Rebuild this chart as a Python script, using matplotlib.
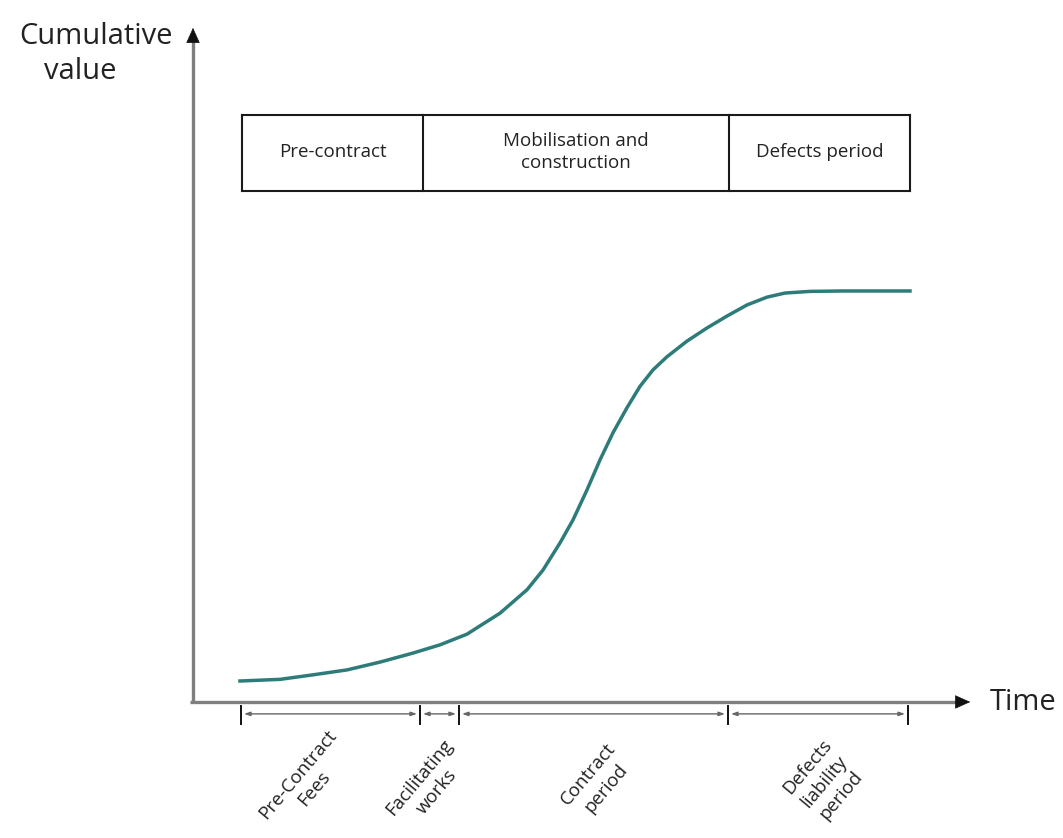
import matplotlib
matplotlib.use("Agg")
import matplotlib.pyplot as plt
import numpy as np

plt.rcParams['font.family'] = ['Open Sans', 'DejaVu Sans']

# s-curve of cumulative value over time
time = [9.4, 17.4, 24.0, 30.8, 37.4, 44.0, 49.4, 54.8, 61.4, 66.8, 70.0, 73.4,
        76.0, 78.8, 81.4, 84.0, 86.8, 89.4, 92.0, 94.8, 98.8, 102.8, 106.8,
        110.8, 114.8, 118.4, 123.4, 130.0, 143.4]
value = [5.1, 5.5, 6.6, 7.8, 9.7, 11.9, 13.9, 16.5, 21.6, 27.3, 32.1, 38.7,
         44.3, 51.6, 58.9, 65.5, 71.6, 76.8, 80.8, 84.0, 87.8, 91.0, 93.9,
         96.6, 98.5, 99.5, 99.9, 100.0, 100.0]

# stage boxes along the top
stage_edges = [9.8, 46.0, 107.2, 143.4]
stage_names = ["Pre-contract", "Mobilisation and\nconstruction", "Defects period"]

# dimension line below the time axis
period_edges = [9.6, 45.4, 53.2, 107.0, 143.0]
period_names = ["Pre-Contract\nFees", "Facilitating\nworks", "Contract\nperiod",
                "Defects\nliability\nperiod"]
period_label_x = [22.6, 47.0, 80.8, 126.2]
period_label_y = [-19.4, -20.2, -19.3, -19.3]

fig = plt.figure(figsize=(10.63, 8.38), dpi=100)
ax = fig.add_axes([0, 0, 1, 1])
ax.set_xlim(-38.6, 174.0)
ax.set_ylim(-33.1, 170.8)
ax.axis('off')

# axes with arrow heads
axis_grey = '#7f7f7f'
ax.plot([-0.6, 154], [0, 0], color=axis_grey, lw=2.4, solid_capstyle='butt')
ax.plot([0, 0], [0, 161], color=axis_grey, lw=2.4, solid_capstyle='butt')
ax.annotate('', xy=(156.0, 0), xytext=(152.0, 0),
            arrowprops=dict(arrowstyle='-|>,head_length=1.0,head_width=0.45',
                            color='#111111', lw=0.5))
ax.annotate('', xy=(0, 164.7), xytext=(0, 160.5),
            arrowprops=dict(arrowstyle='-|>,head_length=1.0,head_width=0.45',
                            color='#111111', lw=0.5))

ax.text(-4.0, 161.8, "Cumulative", ha='right', va='center', fontsize=21, color='#222222')
ax.text(-22.6, 153.3, "value", ha='center', va='center', fontsize=21, color='#222222')
ax.text(159.4, -0.2, "Time", ha='left', va='center', fontsize=21, color='#222222')

ax.plot(time, value, color='#2e7c79', lw=2.5)

# stage boxes
box_lo, box_hi = 124.3, 142.8
ax.plot([stage_edges[0], stage_edges[-1]], [box_hi, box_hi], color='#1a1a1a', lw=1.5)
ax.plot([stage_edges[0], stage_edges[-1]], [box_lo, box_lo], color='#1a1a1a', lw=1.5)
for e in stage_edges:
    ax.plot([e, e], [box_lo, box_hi], color='#1a1a1a', lw=1.5)
for i, name in enumerate(stage_names):
    cx = (stage_edges[i] + stage_edges[i + 1]) / 2
    ax.text(cx, (box_lo + box_hi) / 2 + 0.2, name, ha='center', va='center',
            fontsize=13.5, color='#222222', linespacing=1.3)

# period dimension line
dim_y = -2.9
for e in period_edges:
    ax.plot([e, e], [-0.9, -5.3], color='#111111', lw=1.4)
for a, b in zip(period_edges[:-1], period_edges[1:]):
    ax.annotate('', xy=(b - 0.6, dim_y), xytext=(a + 0.6, dim_y),
                arrowprops=dict(arrowstyle='<|-|>,head_length=0.35,head_width=0.12',
                                color='#666666', lw=1.0, shrinkA=0, shrinkB=0))
for x, y, name in zip(period_label_x, period_label_y, period_names):
    ax.text(x, y, name, ha='center', va='center', rotation=50,
            rotation_mode='anchor', fontsize=13.5, color='#222222',
            multialignment='center', linespacing=1.3)

fig.savefig('out.png', dpi=100, facecolor='white')
